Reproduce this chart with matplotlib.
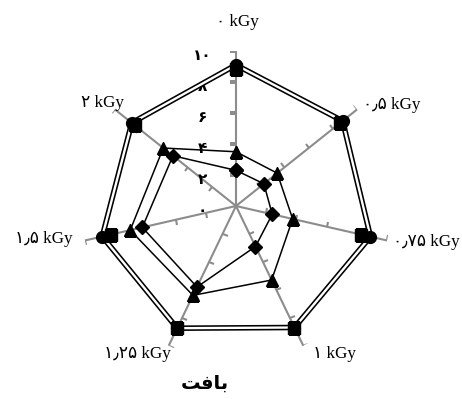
import numpy as np
import matplotlib
matplotlib.use('Agg')
import matplotlib.pyplot as plt
import matplotlib.patheffects as pe
from matplotlib.markers import MarkerStyle
from matplotlib.transforms import Affine2D

# Dose levels (clockwise from the top)
labels = ['۰ kGy', '۰٫۵ kGy', '۰٫۷۵ kGy', '۱ kGy', '۱٫۲۵ kGy', '۱٫۵ kGy', '۲ kGy']

# Texture scores
circle_vals = [9.1, 8.8, 8.9, 8.7, 8.75, 8.85, 8.6]
square_vals = [8.85, 8.55, 8.3, 8.7, 8.7, 8.3, 8.35]
triangle_vals = [3.5, 3.4, 3.75, 5.3, 6.4, 7.0, 6.0]
diamond_vals = [2.3, 2.3, 2.4, 2.9, 5.8, 6.2, 5.2]

r_ticks = [0, 2, 4, 6, 8, 10]
r_tick_labels = ['۰', '۲', '۴', '۶', '۸', '۱۰']
title = '\uFE96\uFED3\uFE8E\uFE91'  # بافت (presentation forms, visual order)

n = len(labels)
theta = np.arange(n) * 2 * np.pi / n
theta_c = np.append(theta, theta[0])


def closed(v):
    return np.append(v, v[0])


fig = plt.figure(figsize=(4.62, 3.99), dpi=100)
ax = fig.add_axes([0.1753, 0.0952, 0.671, 0.777], projection='polar')
ax.set_theta_offset(np.pi / 2)
ax.set_theta_direction(-1)
ax.set_ylim(0, 10)
ax.axis('off')

gray = '#8c8c8c'
# spokes with one-sided tick marks
for t in theta:
    ax.plot([t, t], [0, 10], color=gray, lw=1.5, zorder=1)
    tick = MarkerStyle(0, transform=Affine2D().rotate_deg(-np.degrees(t)))
    ax.plot([t] * (len(r_ticks) - 1), r_ticks[1:], ls='none', marker=tick,
            markersize=4, mec=gray, mew=1.5, zorder=1)

# radial value labels along the top spoke
for r, s in zip(r_ticks, r_tick_labels):
    ax.annotate(s, (0, r), xytext=(-24, -3), textcoords='offset points',
                ha='center', va='center', fontsize=11, fontweight='bold',
                family=['DejaVu Sans'])

# outer series with double line
ax.plot(theta_c, closed(circle_vals), color='white', lw=1.7, zorder=3,
        path_effects=[pe.Stroke(linewidth=4.0, foreground='black'), pe.Normal()])
ax.plot(theta, circle_vals, ls='none', marker='o', ms=8.5, color='black', zorder=4)
ax.plot(theta, square_vals, ls='none', marker='s', ms=8, color='black', zorder=4)

ax.plot(theta_c, closed(triangle_vals), color='black', lw=1.1, marker='^',
        ms=8.5, zorder=3)
ax.plot(theta_c, closed(diamond_vals), color='black', lw=1.1, marker='D',
        ms=7, zorder=3)

# category labels
fam = ['Liberation Serif', 'DejaVu Sans']
pos = [(237, 22, 'center'), (363, 105, 'left'), (393, 242, 'left'),
       (313, 354, 'left'), (171, 354, 'right'), (73, 239, 'right'),
       (124, 103, 'right')]
for lab, (x, y, ha) in zip(labels, pos):
    fig.text(x / 462, 1 - y / 399, lab, ha=ha, va='center', fontsize=12.3,
             family=fam)

fig.text(205 / 462, 1 - 383 / 399, title, ha='center', va='center',
         fontsize=14, fontweight='bold', family=['DejaVu Sans'])

fig.savefig('out.png', dpi=100)
